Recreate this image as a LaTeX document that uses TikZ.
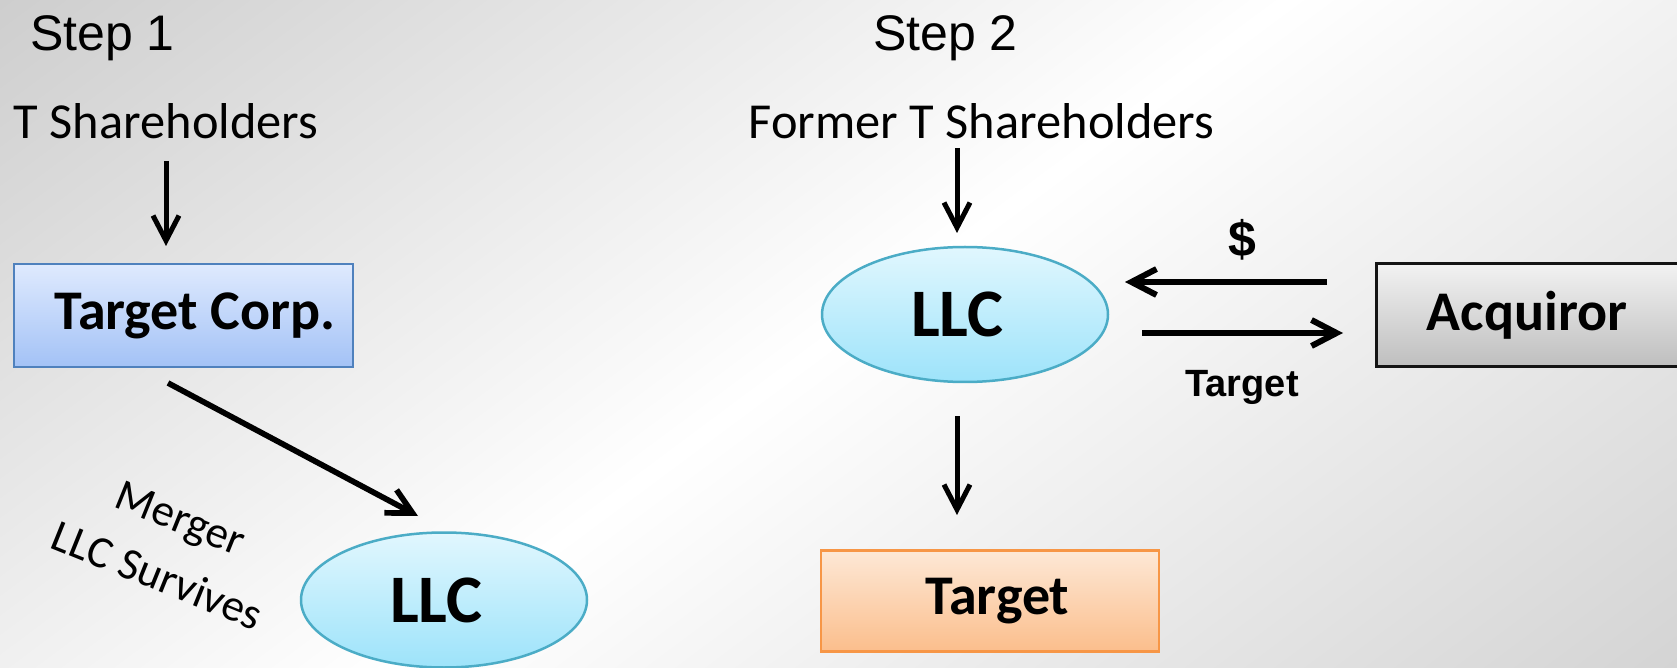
\documentclass[tikz,border=0pt]{standalone}
\usepackage{fontspec}
\setmainfont{Carlito}
\newfontfamily\arialfont{Liberation Sans}
\usetikzlibrary{shapes.geometric,arrows.meta}

% palette
\definecolor{bgA}{RGB}{206,206,206}
\definecolor{bgB}{RGB}{212,212,212}
\definecolor{blueTop}{RGB}{223,234,254}
\definecolor{blueBot}{RGB}{163,194,246}
\definecolor{blueLine}{RGB}{79,129,189}
\definecolor{cyanTop}{RGB}{225,247,254}
\definecolor{cyanBot}{RGB}{157,227,250}
\definecolor{cyanLine}{RGB}{75,172,198}
\definecolor{orTop}{RGB}{253,232,214}
\definecolor{orBot}{RGB}{251,190,140}
\definecolor{orLine}{RGB}{247,150,70}
\definecolor{grTop}{RGB}{242,242,242}
\definecolor{grBot}{RGB}{190,190,190}
\definecolor{grLine}{RGB}{20,20,20}

% slide backdrop: grey corners fading to white across the middle
\pgfdeclarehorizontalshading{bgshade}{100bp}{color(0bp)=(bgA); color(25bp)=(bgA); color(50bp)=(white); color(75bp)=(bgB); color(100bp)=(bgB)}

\tikzset{
  steplbl/.style={inner sep=0pt, anchor=base, font=\arialfont\fontsize{25pt}{30pt}\selectfont},
  holders/.style={inner sep=0pt, anchor=base, font=\fontsize{25.2pt}{30pt}\selectfont},
  boxbase/.style={draw, rectangle, inner sep=0pt, outer sep=0pt, line width=1.25pt,
    minimum width=169.5pt, minimum height=51.5pt,
    font=\fontsize{28pt}{33pt}\selectfont\bfseries},
  bluebox/.style={boxbase, draw=blueLine, top color=blueTop, bottom color=blueBot},
  orangebox/.style={boxbase, draw=orLine, top color=orTop, bottom color=orBot,
    minimum width=169pt, minimum height=50.5pt},
  graybox/.style={boxbase, draw=grLine, line width=1.5pt, top color=grTop, bottom color=grBot},
  llcshape/.style={draw=cyanLine, ellipse, line width=1.25pt, inner sep=0pt, outer sep=0pt,
    minimum width=143pt, minimum height=67.5pt, top color=cyanTop, bottom color=cyanBot,
    font=\fontsize{34pt}{40pt}\selectfont\bfseries},
  mergerlbl/.style={inner sep=0pt, align=center, rotate=-22,
    font=\fontsize{22.5pt}{31pt}\selectfont},
  arrlbl/.style={inner sep=0pt, anchor=base, font=\arialfont\bfseries\fontsize{19pt}{22pt}\selectfont},
  dollarlbl/.style={arrlbl, font=\arialfont\bfseries\fontsize{25pt}{30pt}\selectfont},
  arr/.style={line width=2.5pt, -{Straight Barb[length=12.5pt,width=13pt]}},
  arrmid/.style={arr, line width=2.85pt},
  arrwide/.style={arr, line width=3pt},
}

\begin{document}
\begin{tikzpicture}[x=0.5pt,y=-0.5pt]
\useasboundingbox (0,0) rectangle (1677,668);

% background
\begin{scope}
  \clip (0,0) rectangle (1677,668);
  \begin{scope}[transform canvas={rotate around={-53.4:(838.5,334)}}]
    \shade[shading=bgshade] (70.5,-600) rectangle (1606.5,1268);
  \end{scope}
\end{scope}

% headings
\node[steplbl] (s1) at (102.5,51) {Step 1};
\node[steplbl] (s2) at (945.5,51) {Step 2};
\node[holders] (tsh) at (166,139) {T Shareholders};
\node[holders] (fsh) at (981.5,139) {Former T Shareholders};

% step 1
\node[bluebox] (tcorp) at (183.5,315.5) {\hspace*{11.5pt}Target Corp.};
\node[llcshape] (llc1) at (444,600) {LLC\hspace*{7.5pt}};
\node[mergerlbl] (mrg) at (169,547) {Merger\\LLC Survives};

% step 2
\node[llcshape] (llc2) at (965,314.5) {LLC\hspace*{7.5pt}};
\node[orangebox] (tgt) at (990,601) {\hspace*{7.5pt}Target};
\node[graybox] (acq) at (1545.5,315.5) {Acquiror\hspace*{18.5pt}};
\node[dollarlbl] (dollar) at (1242,257) {\$};
\node[arrlbl] (tlbl) at (1242,396) {Target};

% connectors
\draw[arr, shorten <=10.5pt, shorten >=9pt] (tsh.south) -- (tsh.south |- tcorp.north);
\draw[arrmid] ([xshift=-7.75pt,yshift=-8pt]tcorp.south) -- ([xshift=-13pt,yshift=8.25pt]llc1.north);
\draw[arr] ([xshift=-12.25pt,yshift=-4pt]fsh.south) -- ([xshift=-4pt,yshift=7pt]llc2.north);
\draw[arr] ([xshift=-4pt,yshift=-17pt]llc2.south) -- ([xshift=-16.5pt,yshift=17.75pt]tgt.north);
\draw[arrwide] ([xshift=-24.5pt,yshift=16.75pt]acq.west) -- ([xshift=8.5pt,yshift=16.25pt]llc2.east);
\draw[arrwide] ([xshift=17pt,yshift=-9.25pt]llc2.east) -- ([xshift=-16.5pt,yshift=-8.75pt]acq.west);
\end{tikzpicture}
\end{document}
